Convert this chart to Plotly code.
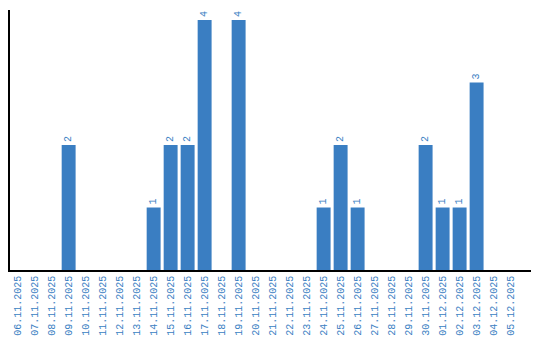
import plotly.graph_objects as go

dates = ["06.11.2025", "07.11.2025", "08.11.2025", "09.11.2025", "10.11.2025",
         "11.11.2025", "12.11.2025", "13.11.2025", "14.11.2025", "15.11.2025",
         "16.11.2025", "17.11.2025", "18.11.2025", "19.11.2025", "20.11.2025",
         "21.11.2025", "22.11.2025", "23.11.2025", "24.11.2025", "25.11.2025",
         "26.11.2025", "27.11.2025", "28.11.2025", "29.11.2025", "30.11.2025",
         "01.12.2025", "02.12.2025", "03.12.2025", "04.12.2025", "05.12.2025"]
counts = [0, 0, 0, 2, 0, 0, 0, 0, 1, 2, 2, 4, 0, 4, 0,
          0, 0, 0, 1, 2, 1, 0, 0, 0, 2, 1, 1, 3, 0, 0]

BLUE = "#3a7ec2"
FONT = "Liberation Mono"

labels = [str(v) if v else "" for v in counts]

fig = go.Figure(go.Bar(
    x=dates, y=counts, marker_color=BLUE, marker_line_width=0,
    text=labels, textposition="outside", textangle=-90,
    textfont=dict(family=FONT, size=10, color=BLUE),
    cliponaxis=False,
))

fig.update_layout(
    width=540, height=340,
    margin=dict(l=10, r=9, t=10, b=70),
    paper_bgcolor="white", plot_bgcolor="white",
    bargap=0.18, showlegend=False,
    font=dict(family=FONT, size=10, color=BLUE),
)
fig.update_xaxes(
    type="category", range=[-0.45, 30.2], automargin=False,
    showline=True, linecolor="black", linewidth=1.5,
    showgrid=False, ticks="", tickangle=-90,
    tickfont=dict(family=FONT, size=10, color=BLUE),
)
fig.update_yaxes(
    range=[0, 4.16], showline=True, linecolor="black", linewidth=1.5,
    showgrid=False, showticklabels=False, ticks="", zeroline=False,
    automargin=False,
)

fig.write_html("out.html")
